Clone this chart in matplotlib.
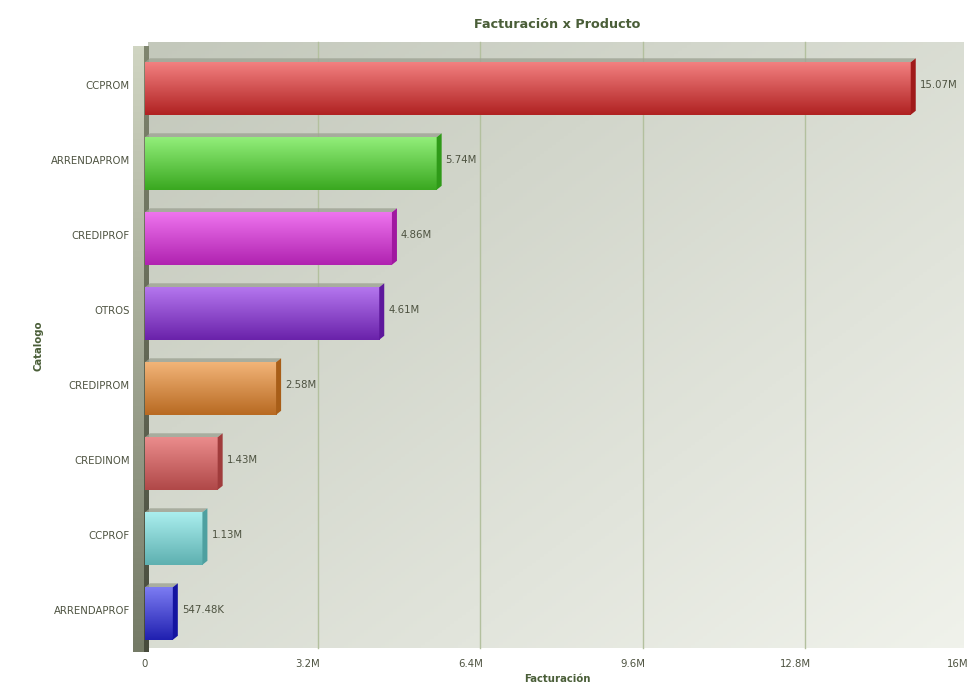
import numpy as np
import matplotlib
matplotlib.use('Agg')
import matplotlib.pyplot as plt
import matplotlib.transforms as mtransforms
from matplotlib.patches import Polygon
from matplotlib.colors import to_rgb

# datos
productos = ['CCPROM', 'ARRENDAPROM', 'CREDIPROF', 'OTROS', 'CREDIPROM', 'CREDINOM', 'CCPROF', 'ARRENDAPROF']
facturacion = [15.07e6, 5.74e6, 4.86e6, 4.61e6, 2.58e6, 1.43e6, 1.13e6, 547.48e3]
etiquetas = ['15.07M', '5.74M', '4.86M', '4.61M', '2.58M', '1.43M', '1.13M', '547.48K']
x_ticks = [0, 3.2e6, 6.4e6, 9.6e6, 12.8e6, 16e6]
x_tick_labels = ['0', '3.2M', '6.4M', '9.6M', '12.8M', '16M']

# colores (arriba, abajo, lateral)
colores = [
    ('#f28080', '#b02222', '#a01a1a'),
    ('#92ee7a', '#3aa820', '#2f9a18'),
    ('#ee74ee', '#b022b0', '#a018a0'),
    ('#b476ee', '#6a22aa', '#5e189c'),
    ('#f2b478', '#b86a22', '#a85e18'),
    ('#ea8c8c', '#b04848', '#a03c3c'),
    ('#aaeeee', '#5eb0b0', '#4ea0a0'),
    ('#7c7cf2', '#2020b0', '#1414a0'),
]

W, H = 980, 700
txt_color = '#4d5240'
title_color = '#4a5e38'

fig = plt.figure(figsize=(W / 100, H / 100), dpi=100)

def px_box(x0, y0, x1, y1):
    return [x0 / W, 1 - y1 / H, (x1 - x0) / W, (y1 - y0) / H]

# fondo (pared trasera) con degradado
bg = fig.add_axes(px_box(148, 42, 963, 648), zorder=0)
gx, gy = np.meshgrid(np.linspace(0, 1, 200), np.linspace(0, 1, 200))
t = (gx + gy) / 2
c0 = np.array(to_rgb('#c3c8bb'))
c1 = np.array(to_rgb('#f0f2eb'))
img = c0 + (c1 - c0) * t[..., None]
bg.imshow(img, extent=[0, 1, 0, 1], aspect='auto', origin='upper')
bg.set_axis_off()

# pared izquierda
wall = fig.add_axes(px_box(133, 46, 149, 652), zorder=1)
v = np.linspace(0, 1, 200)[:, None]
light = np.array(to_rgb('#d0d5c2')) + (np.array(to_rgb('#747a66')) - np.array(to_rgb('#d0d5c2'))) * v
dark = np.array(to_rgb('#80866f')) + (np.array(to_rgb('#474b3c')) - np.array(to_rgb('#80866f'))) * v
wimg = np.concatenate([np.repeat(light[:, None, :], 11, axis=1), np.repeat(dark[:, None, :], 5, axis=1)], axis=1)
wall.imshow(wimg, extent=[0, 1, 0, 1], aspect='auto', origin='upper')
wall.set_axis_off()

ax = fig.add_axes(px_box(145, 47.5, 958, 647.5), zorder=2)
ax.patch.set_alpha(0)
ax.set_xlim(0, 16e6)
y = np.arange(len(productos))
ax.set_ylim(len(productos) - 0.5, -0.5)
for s in ax.spines.values():
    s.set_visible(False)

# lineas de la rejilla en la pared trasera (desplazadas)
off = mtransforms.ScaledTranslation(0.10, 0.0, fig.dpi_scale_trans)
for xt in x_ticks[1:-1]:
    ax.plot([xt, xt], [0, 1.01], transform=ax.get_xaxis_transform() + off,
            color='#b3c09e', lw=1, zorder=0, clip_on=False)

ax.set_xticks(x_ticks)
ax.set_xticklabels(x_tick_labels, color=txt_color, fontsize=7.3)
ax.set_yticks(y)
ax.set_yticklabels(productos, color=txt_color, fontsize=7.3)
ax.tick_params(length=0)
ax.tick_params(axis='y', pad=11)
ax.tick_params(axis='x', pad=8)

fig.canvas.draw()
inv = ax.transData.inverted()
dpx, dpy = 5, 4
alto = 0.7
desp = 0.047  # la cara frontal queda un poco por debajo de la etiqueta
for i, (val, lab, (ctop, cbot, cside)) in enumerate(zip(facturacion, etiquetas, colores)):
    top = i + desp - alto / 2
    bot = i + desp + alto / 2
    a = np.array(to_rgb(ctop))
    b = np.array(to_rgb(cbot))
    g = np.linspace(0, 1, 64)[:, None]
    grad = (a + (b - a) * g)[:, None, :]
    ax.imshow(grad, extent=(0, val, bot, top), origin='upper', aspect='auto', zorder=3)
    # cara superior y lateral
    p_tl = ax.transData.transform((0, top))
    p_tr = ax.transData.transform((val, top))
    p_br = ax.transData.transform((val, bot))
    q_tl = inv.transform(p_tl + [dpx, dpy])
    q_tr = inv.transform(p_tr + [dpx, dpy])
    q_br = inv.transform(p_br + [dpx, dpy])
    ax.add_patch(Polygon([(0, top), (val, top), tuple(q_tr), tuple(q_tl)],
                         closed=True, fc='#9ea394', ec='none', alpha=0.8, zorder=2.5))
    ax.add_patch(Polygon([(val, top), tuple(q_tr), tuple(q_br), (val, bot)],
                         closed=True, fc=cside, ec='none', zorder=3))
    lx = inv.transform(p_tr + [dpx + 4, 0])[0]
    ax.text(lx, i, lab, va='center', ha='left', fontsize=7.3, color=txt_color, zorder=4)

fig.text(557 / W, 1 - 679 / H, 'Facturación', ha='center', va='center',
         fontsize=7.3, fontweight='bold', color=title_color)
fig.text(38 / W, 1 - 346 / H, 'Catalogo', ha='center', va='center', rotation=90,
         fontsize=7.3, fontweight='bold', color=title_color)
fig.text(557 / W, 1 - 24 / H, 'Facturación x Producto', ha='center', va='center',
         fontsize=9.2, fontweight='bold', color=title_color)

fig.savefig('out.png', dpi=100)
